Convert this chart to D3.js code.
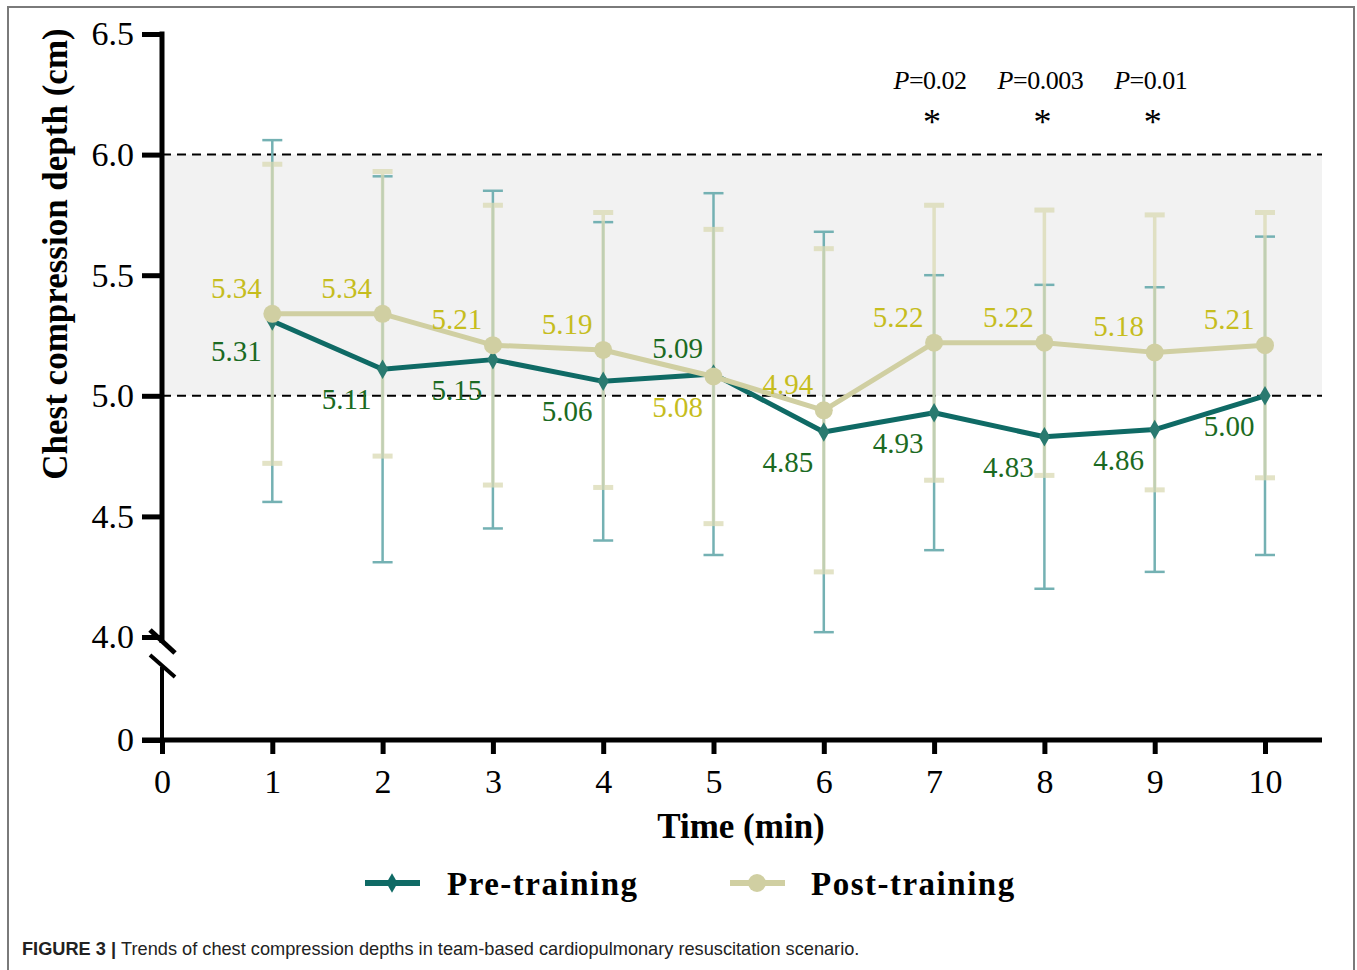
<!DOCTYPE html>
<html>
<head>
<meta charset="utf-8">
<script src="https://cdn.jsdelivr.net/npm/d3@7"></script>
<style>
  body { margin: 0; background: #fff; }
  svg { display: block; }
  .serif { font-family: "Liberation Serif", "Times New Roman", serif; }
</style>
</head>
<body>
<div id="chart"></div>
<script>
// values
const minutes = [1, 2, 3, 4, 5, 6, 7, 8, 9, 10];
const preMean = [5.31, 5.11, 5.15, 5.06, 5.09, 4.85, 4.93, 4.83, 4.86, 5.00];
const preSd = [0.75, 0.80, 0.70, 0.66, 0.75, 0.83, 0.57, 0.63, 0.59, 0.66];
const postMean = [5.34, 5.34, 5.21, 5.19, 5.08, 4.94, 5.22, 5.22, 5.18, 5.21];
const postSd = [0.62, 0.59, 0.58, 0.57, 0.61, 0.67, 0.57, 0.55, 0.57, 0.55];
const xTicks = [0, 1, 2, 3, 4, 5, 6, 7, 8, 9, 10];
const yTicksTop = [4.0, 4.5, 5.0, 5.5, 6.0, 6.5];
const yTicksBottom = [0];
const bandRange = [5.0, 6.0];
const pMinutes = [7, 8, 9];
const pValues = ["0.02", "0.003", "0.01"];

const W = 1357, H = 970;
const C = {
  pre: "#0f6a65",
  preBar: "#74b1b3",
  preText: "#1b6a22",
  post: "#d0cfa2",
  postBar: "#dadab4",
  postText: "#c6bd1e"
};

const svg = d3.select("#chart").append("svg")
  .attr("width", W).attr("height", H);

// frame
svg.append("rect")
  .attr("x", 8).attr("y", 7).attr("width", 1346).attr("height", 990)
  .attr("fill", "none").attr("stroke", "#7a7a7a").attr("stroke-width", 2);

const x = d3.scaleLinear().domain([0, 10]).range([162, 1265]);
const yTop = d3.scaleLinear().domain([4.0, 6.5]).range([637, 34]);
const yBot = d3.scaleLinear().domain([0, 0.4]).range([740, 660]);
const xEnd = 1322;

// shaded target band + dashed limits
svg.append("rect")
  .attr("x", x(0)).attr("y", yTop(bandRange[1]))
  .attr("width", xEnd - x(0)).attr("height", yTop(bandRange[0]) - yTop(bandRange[1]))
  .attr("fill", "#f2f2f2");

svg.selectAll(".limit").data(bandRange).enter().append("line")
  .attr("class", "limit")
  .attr("x1", x(0)).attr("x2", xEnd)
  .attr("y1", d => yTop(d)).attr("y2", d => yTop(d))
  .attr("stroke", "#000").attr("stroke-width", 2).attr("stroke-dasharray", "9,6");

// axes
const axisStyle = (g, fs) => {
  g.select(".domain").remove();
  g.selectAll(".tick line").attr("stroke", "#000").attr("stroke-width", 5);
  g.selectAll(".tick text").attr("class", "serif").attr("font-size", fs).attr("fill", "#000");
};

svg.append("g")
  .attr("transform", `translate(${x(0)},0)`)
  .call(d3.axisLeft(yTop).tickValues(yTicksTop).tickFormat(d3.format(".1f")).tickSize(20).tickPadding(8))
  .call(g => axisStyle(g, 34));

svg.append("g")
  .attr("transform", `translate(${x(0)},0)`)
  .call(d3.axisLeft(yBot).tickValues(yTicksBottom).tickFormat(d3.format("d")).tickSize(20).tickPadding(8))
  .call(g => axisStyle(g, 34));

svg.append("g")
  .attr("transform", `translate(0,${yBot(0)})`)
  .call(d3.axisBottom(x).tickValues(xTicks).tickFormat(d3.format("d")).tickSize(14).tickPadding(15))
  .call(g => axisStyle(g, 34));

// axis lines with break
svg.append("line")
  .attr("x1", x(0)).attr("x2", x(0))
  .attr("y1", yTop(6.5) - 2.5).attr("y2", yTop(4.0) + 6)
  .attr("stroke", "#000").attr("stroke-width", 5);
svg.append("line")
  .attr("x1", x(0)).attr("x2", x(0))
  .attr("y1", yBot(0)).attr("y2", 667)
  .attr("stroke", "#000").attr("stroke-width", 4);
svg.append("line")
  .attr("x1", x(0) - 20).attr("x2", xEnd)
  .attr("y1", yBot(0)).attr("y2", yBot(0))
  .attr("stroke", "#000").attr("stroke-width", 5);
svg.append("line")
  .attr("x1", x(0) - 12).attr("y1", 630).attr("x2", x(0) + 13).attr("y2", 653)
  .attr("stroke", "#000").attr("stroke-width", 5);
svg.append("line")
  .attr("x1", x(0) - 12).attr("y1", 655).attr("x2", x(0) + 13).attr("y2", 677)
  .attr("stroke", "#000").attr("stroke-width", 4);

// error bars
function errorBars(cls, mean, sd, color, w, capW, opacity) {
  const g = svg.append("g").attr("class", cls).attr("opacity", opacity);
  const rows = minutes.map((m, i) => ({ m, lo: mean[i] - sd[i], hi: mean[i] + sd[i] }));
  g.selectAll(".stem").data(rows).enter().append("line")
    .attr("x1", d => x(d.m)).attr("x2", d => x(d.m))
    .attr("y1", d => yTop(d.hi)).attr("y2", d => yTop(d.lo))
    .attr("stroke", color).attr("stroke-width", w);
  ["lo", "hi"].forEach(k => {
    g.selectAll(".cap-" + k).data(rows).enter().append("line")
      .attr("x1", d => x(d.m) - 10).attr("x2", d => x(d.m) + 10)
      .attr("y1", d => yTop(d[k])).attr("y2", d => yTop(d[k]))
      .attr("stroke", color).attr("stroke-width", capW);
  });
}
errorBars("pre-err", preMean, preSd, C.preBar, 2.5, 2.5, 1);
errorBars("post-err", postMean, postSd, C.postBar, 3.5, 5, 0.75);

// lines
const line = d3.line().x((d, i) => x(minutes[i])).y(d => yTop(d));

svg.append("path").datum(preMean)
  .attr("d", line).attr("fill", "none")
  .attr("stroke", C.pre).attr("stroke-width", 5).attr("stroke-linejoin", "round");
svg.selectAll(".pre-pt").data(preMean).enter().append("path")
  .attr("transform", (d, i) => `translate(${x(minutes[i])},${yTop(d)})`)
  .attr("d", d3.symbol(d3.symbolDiamond, 110))
  .attr("fill", "#2a7a70");

svg.append("path").datum(postMean)
  .attr("d", line).attr("fill", "none")
  .attr("stroke", C.post).attr("stroke-width", 5).attr("stroke-linejoin", "round");
svg.selectAll(".post-pt").data(postMean).enter().append("circle")
  .attr("cx", (d, i) => x(minutes[i])).attr("cy", d => yTop(d))
  .attr("r", 9).attr("fill", C.post);

// value labels: the higher series above its point, the lower one below
const fmt = d3.format(".2f");
function valueLabels(mean, other, color) {
  svg.selectAll(null).data(mean).enter().append("text")
    .attr("class", "serif")
    .attr("x", (d, i) => x(minutes[i]) - 36)
    .attr("y", (d, i) => yTop(d) + (d >= other[i] ? -16 : 40))
    .attr("text-anchor", "middle")
    .attr("font-size", 29).attr("fill", color)
    .text(fmt);
}
valueLabels(preMean, postMean, C.preText);
valueLabels(postMean, preMean, C.postText);

// significance
const sig = svg.selectAll(".sig").data(pMinutes).enter().append("g").attr("class", "sig");
sig.append("text")
  .attr("class", "serif")
  .attr("x", d => x(d) - 4).attr("y", 89)
  .attr("text-anchor", "middle").attr("font-size", 26).attr("letter-spacing", -0.5)
  .call(t => t.append("tspan").attr("font-style", "italic").text("P"))
  .call(t => t.append("tspan").text((d, i) => "=" + pValues[i]));
sig.append("text")
  .attr("class", "serif")
  .attr("x", d => x(d) - 2).attr("y", 134)
  .attr("text-anchor", "middle").attr("font-size", 36)
  .text("*");

// axis titles
svg.append("text")
  .attr("class", "serif")
  .attr("x", 741).attr("y", 838)
  .attr("text-anchor", "middle").attr("font-size", 35).attr("font-weight", "bold")
  .text("Time (min)");
svg.append("text")
  .attr("class", "serif")
  .attr("transform", "translate(67,254) rotate(-90)")
  .attr("text-anchor", "middle").attr("font-size", 35).attr("font-weight", "bold")
  .text("Chest compression depth (cm)");

// legend
const legend = [
  { name: "Pre-training", color: C.pre, mark: "diamond", x: 365 },
  { name: "Post-training", color: C.post, mark: "circle", x: 730 }
];
const lg = svg.selectAll(".lg").data(legend).enter().append("g")
  .attr("transform", d => `translate(${d.x},883)`);
lg.append("line").attr("x1", 0).attr("x2", 55)
  .attr("stroke", d => d.color).attr("stroke-width", 6);
lg.filter(d => d.mark === "diamond").append("path")
  .attr("transform", "translate(27,0)")
  .attr("d", d3.symbol(d3.symbolDiamond, 110)).attr("fill", d => d.color);
lg.filter(d => d.mark === "circle").append("circle")
  .attr("cx", 27).attr("r", 9).attr("fill", d => d.color);
lg.append("text")
  .attr("class", "serif")
  .attr("x", d => d.name === "Pre-training" ? 82 : 81).attr("y", 12)
  .attr("font-size", 33).attr("font-weight", "bold").attr("letter-spacing", 1.5)
  .text(d => d.name);

// caption
const cap = svg.append("text")
  .attr("x", 22).attr("y", 955)
  .attr("font-family", "'Liberation Sans', Arial, sans-serif")
  .attr("font-size", 18.2).attr("fill", "#222");
cap.append("tspan").attr("font-weight", "bold").text("FIGURE 3 | ");
cap.append("tspan").text("Trends of chest compression depths in team-based cardiopulmonary resuscitation scenario.");
</script>
</body>
</html>
